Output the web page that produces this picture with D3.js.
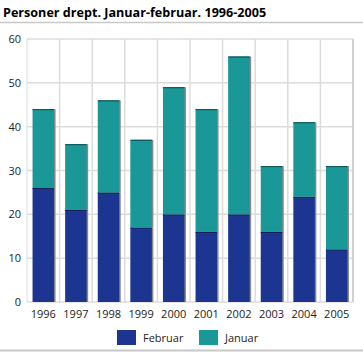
<!DOCTYPE html>
<html><head><meta charset="utf-8">
<script src="https://cdn.jsdelivr.net/npm/d3@7"></script>
<style>body{margin:0;background:#fff;font-family:"Open Sans",sans-serif;}</style>
</head><body><svg id="c" width="363" height="352"></svg>
<script>
const years = ["1996","1997","1998","1999","2000","2001","2002","2003","2004","2005"];
const februar = [26,21,25,17,20,16,20,16,24,12];
const januar = [18,15,21,20,29,28,36,15,17,19];
const yTicks = [0,10,20,30,40,50,60];
const seriesNames = ["Februar","Januar"];
const colors = ["#1b3591","#1a9797"];

const svg = d3.select("#c");
const m = {l:27, r:353, t:39, b:302};
const x = d3.scaleBand().domain(years).range([m.l, m.r]).paddingInner(0.34).paddingOuter(0.17);
const xb = d3.scaleBand().domain(years).range([m.l, m.r]);
const y = d3.scaleLinear().domain([0,60]).range([m.b, m.t]);

svg.append("text").attr("x",3).attr("y",17).text("Personer drept. Januar-februar. 1996-2005")
  .style("font-weight","bold").style("font-size","12.6px").attr("fill","#000");
svg.append("line").attr("x1",0).attr("x2",363).attr("y1",22.5).attr("y2",22.5).attr("stroke","#c8c8c8").attr("stroke-width",1.5);
svg.append("line").attr("x1",0).attr("x2",363).attr("y1",350.5).attr("y2",350.5).attr("stroke","#c8c8c8").attr("stroke-width",2);

// grid
const g = svg.append("g");
yTicks.forEach(t=>{
  g.append("line").attr("x1",m.l).attr("x2",m.r).attr("y1",y(t)).attr("y2",y(t)).attr("stroke","#dcdcdc").attr("stroke-width",1.5);
});
years.forEach((yr,i)=>{
  if(i>0) g.append("line").attr("x1",xb(yr)).attr("x2",xb(yr)).attr("y1",m.t).attr("y2",m.b).attr("stroke","#dcdcdc").attr("stroke-width",1.5);
});
g.append("line").attr("x1",m.l).attr("x2",m.l).attr("y1",m.t).attr("y2",m.b).attr("stroke","#dcdcdc").attr("stroke-width",1);
g.append("line").attr("x1",m.r).attr("x2",m.r).attr("y1",m.t).attr("y2",m.b).attr("stroke","#d0d0d0").attr("stroke-width",2);

// y axis labels
const yAxis = d3.axisLeft(y).tickValues(yTicks).tickSize(0).tickPadding(6);
const ya = svg.append("g").attr("transform",`translate(${m.l},0)`).call(yAxis);
ya.select(".domain").remove();
ya.selectAll("text").style("font-size","11px").style("font-family","'Open Sans',sans-serif").attr("fill","#222");

// x axis labels
const xAxis = d3.axisBottom(xb).tickSize(0).tickPadding(8);
const xa = svg.append("g").attr("transform",`translate(0,${m.b})`).call(xAxis);
xa.select(".domain").remove();
xa.selectAll("text").style("font-size","11px").style("font-family","'Open Sans',sans-serif").attr("fill","#222");

// bars
const stackData = years.map((yr,i)=>({year:yr, Februar:februar[i], Januar:januar[i]}));
const stack = d3.stack().keys(seriesNames)(stackData);
stack.forEach((s,si)=>{
  const gs = svg.append("g");
  s.forEach(d=>{
    const bx = x(d.data.year), bw = x.bandwidth();
    const y0 = y(d[0]), y1 = y(d[1]);
    gs.append("rect").attr("x",bx+1.5).attr("y",y1).attr("width",bw).attr("height",y0-y1).attr("fill","#888");
    gs.append("rect").attr("x",bx).attr("y",y1).attr("width",bw).attr("height",y0-y1).attr("fill",colors[si]);
    gs.append("line").attr("x1",bx).attr("x2",bx+bw).attr("y1",y1+0.5).attr("y2",y1+0.5).attr("stroke",si===0?"#0e1d55":"#0d4f4f").attr("stroke-width",1);
  });
});

// legend
const lg = svg.append("g");
const lx = [117,199];
seriesNames.forEach((n,i)=>{
  lg.append("rect").attr("x",lx[i]).attr("y",330).attr("width",19).attr("height",15).attr("fill",colors[i]);
  lg.append("text").attr("x",lx[i]+26).attr("y",342).text(n).style("font-size","11px").attr("fill","#222");
});
</script></body></html>
